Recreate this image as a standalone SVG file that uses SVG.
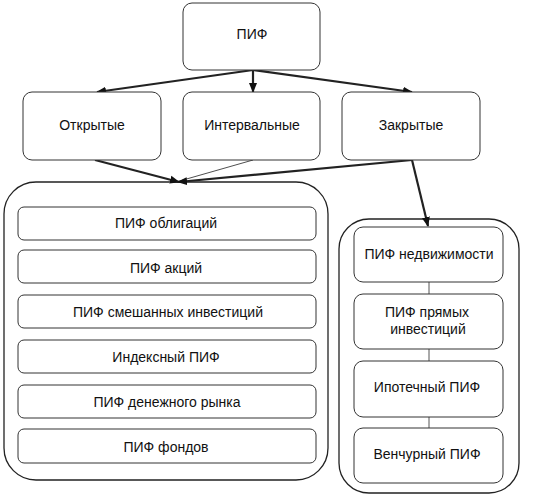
<svg xmlns="http://www.w3.org/2000/svg" width="549" height="499" viewBox="0 0 549 499">
<style>
.b{fill:#fff;stroke:#333;stroke-width:1}
.c{fill:none;stroke:#222;stroke-width:1.3}
text{font-family:"Liberation Sans",Arial,sans-serif;font-size:14px;fill:#111;text-anchor:middle;dominant-baseline:central}
.e{fill:none;stroke:#222;stroke-width:2.2}
.t{fill:none;stroke:#222;stroke-width:0.8}
.l{fill:none;stroke:#555;stroke-width:1}
</style>
<defs>
<marker id="a" markerWidth="10" markerHeight="10" refX="9" refY="5" orient="auto" markerUnits="userSpaceOnUse"><path d="M0,1 L10,5 L0,9 Z" fill="#111"/></marker>
</defs>
<rect fill="#fff" width="549" height="499"/>
<g id="container-left"><rect class="c" x="4" y="182" width="324" height="298" rx="32"/></g>
<g id="container-right"><rect class="c" x="339" y="219" width="180" height="274" rx="30"/></g>
<g id="connectors">
<line class="e" x1="253" y1="70" x2="97" y2="92" marker-end="url(#a)"/>
<line class="e" x1="253" y1="70" x2="253" y2="92" marker-end="url(#a)"/>
<line class="e" x1="253" y1="70" x2="412" y2="92" marker-end="url(#a)"/>
<line class="e" x1="95" y1="160" x2="179" y2="182" marker-end="url(#a)"/>
<line class="t" x1="253" y1="160" x2="176" y2="182"/>
<line class="e" x1="412" y1="160" x2="178" y2="182" marker-end="url(#a)"/>
<line class="e" x1="412" y1="160" x2="428" y2="226" marker-end="url(#a)"/>
<line class="l" x1="429" y1="282" x2="429" y2="294"/>
<line class="l" x1="429" y1="349" x2="429" y2="361"/>
<line class="l" x1="429" y1="417" x2="429" y2="428"/>
</g>
<g id="pif"><rect class="b" x="183" y="3" width="137" height="67" rx="9"/><text x="252" y="34">ПИФ</text></g>
<g id="open"><rect class="b" x="23" y="92" width="138" height="68" rx="9"/><text x="92" y="125">Открытые</text></g>
<g id="interval"><rect class="b" x="183" y="92" width="137" height="68" rx="9"/><text x="252" y="125">Интервальные</text></g>
<g id="closed"><rect class="b" x="342" y="92" width="138" height="68" rx="9"/><text x="411" y="125">Закрытые</text></g>
<g id="bonds"><rect class="b" x="18" y="207" width="298" height="33" rx="6"/><text x="166" y="223">ПИФ облигаций</text></g>
<g id="shares"><rect class="b" x="18" y="250" width="298" height="33" rx="6"/><text x="166" y="268">ПИФ акций</text></g>
<g id="mixed"><rect class="b" x="18" y="295" width="298" height="33" rx="6"/><text x="168" y="312">ПИФ смешанных инвестиций</text></g>
<g id="index"><rect class="b" x="18" y="340" width="298" height="33" rx="6"/><text x="166" y="357">Индексный ПИФ</text></g>
<g id="money"><rect class="b" x="18" y="385" width="298" height="33" rx="6"/><text x="167" y="402">ПИФ денежного рынка</text></g>
<g id="funds"><rect class="b" x="18" y="429" width="298" height="34" rx="6"/><text x="166" y="447">ПИФ фондов</text></g>
<g id="realty"><rect class="b" x="354" y="227" width="149" height="55" rx="9"/><text x="429" y="254">ПИФ недвижимости</text></g>
<g id="direct"><rect class="b" x="354" y="294" width="149" height="55" rx="9"/><text x="427" y="312">ПИФ прямых</text><text x="428" y="329">инвестиций</text></g>
<g id="mortgage"><rect class="b" x="354" y="361" width="149" height="56" rx="9"/><text x="427" y="387">Ипотечный ПИФ</text></g>
<g id="venture"><rect class="b" x="354" y="428" width="149" height="55" rx="9"/><text x="427" y="454">Венчурный ПИФ</text></g>
</svg>
